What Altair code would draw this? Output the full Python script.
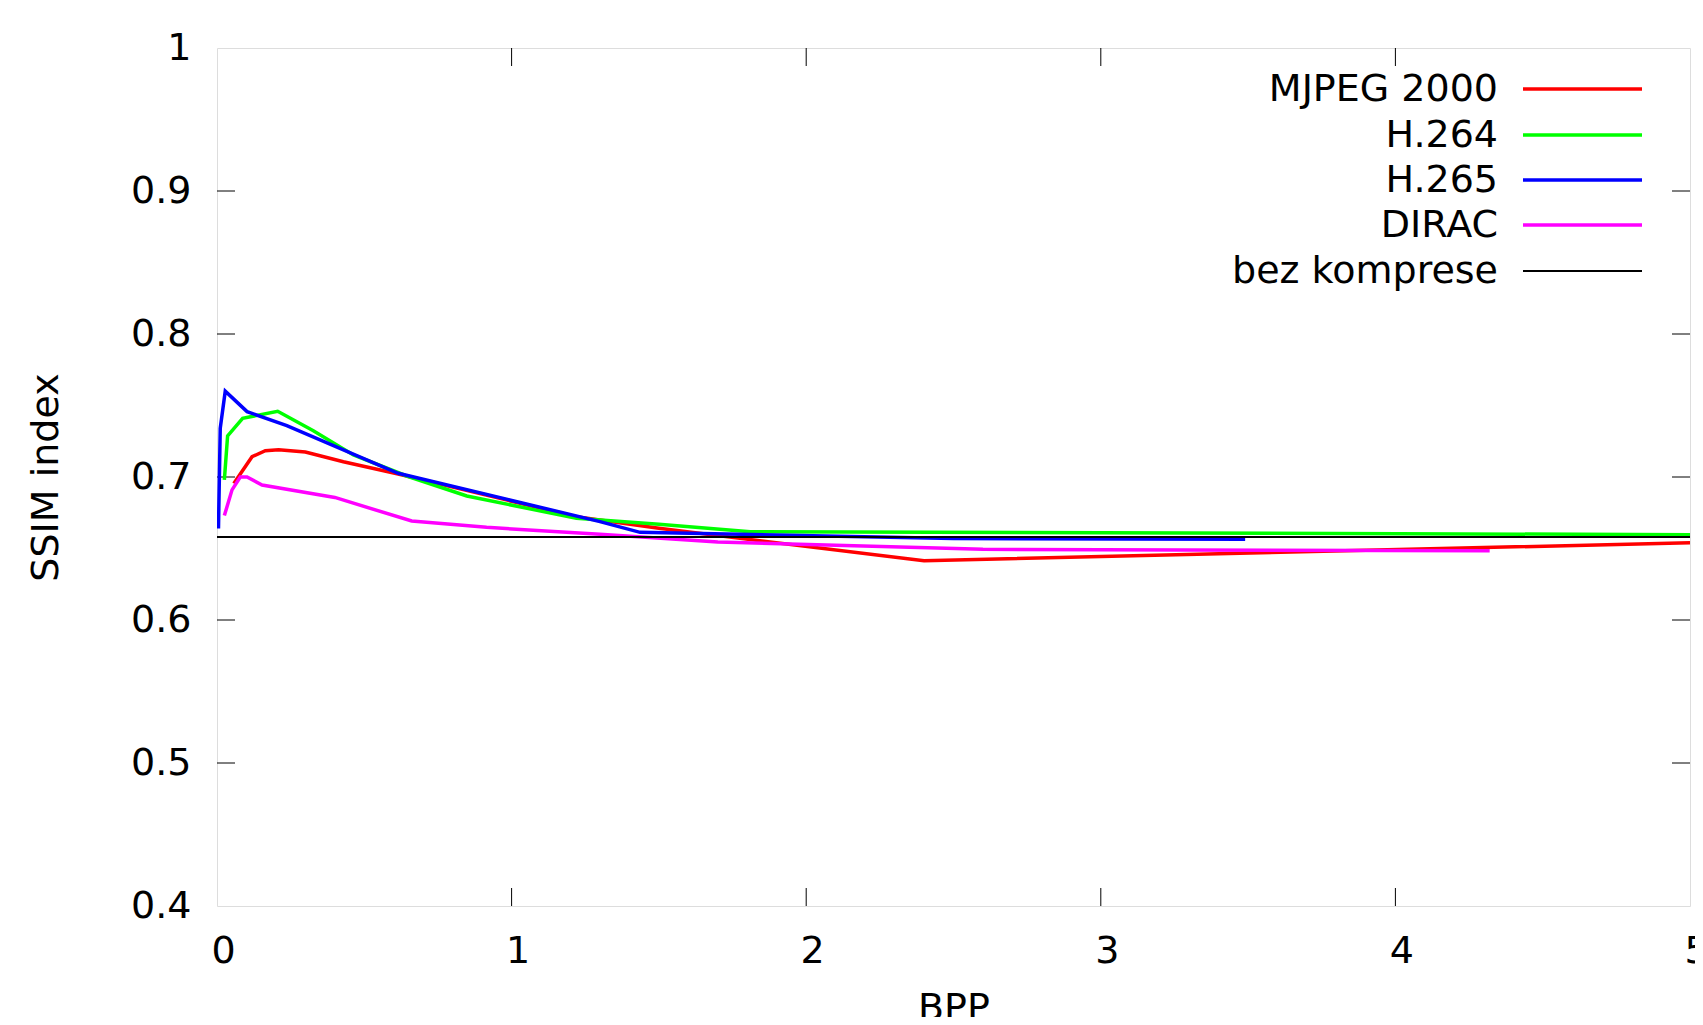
import altair as alt
import pandas as pd

# ---- data ----
SERIES = ["MJPEG 2000", "H.264", "H.265", "DIRAC", "bez komprese"]
COLORS = ["#ff0000", "#00ff00", "#0000ff", "#ff00ff", "#000000"]

MJPEG_BPP = [0.057, 0.119, 0.164, 0.209, 0.30, 0.429, 0.615, 1.22, 1.5, 2.4, 5.0]
MJPEG_SSIM = [0.6955, 0.7142, 0.7184, 0.719, 0.7175, 0.7107, 0.7021, 0.6722, 0.6641, 0.6415, 0.654]

H264_BPP = [0.025, 0.036, 0.087, 0.206, 0.327, 0.463, 0.644, 0.848, 1.22, 1.50, 1.81, 5.0]
H264_SSIM = [0.698, 0.7287, 0.741, 0.746, 0.7324, 0.7154, 0.7007, 0.6867, 0.6711, 0.667, 0.6617, 0.6597]

H265_BPP = [0.005, 0.011, 0.028, 0.102, 0.237, 0.615, 1.30, 1.436, 2.5, 3.49]
H265_SSIM = [0.664, 0.734, 0.760, 0.7457, 0.736, 0.7026, 0.6688, 0.6613, 0.657, 0.6564]

DIRAC_BPP = [0.025, 0.051, 0.079, 0.102, 0.153, 0.40, 0.661, 0.915, 1.30, 1.7, 2.6, 4.32]
DIRAC_SSIM = [0.673, 0.691, 0.700, 0.700, 0.6944, 0.6857, 0.6692, 0.6648, 0.660, 0.6545, 0.6494, 0.6484]

BASE_BPP = [0.0, 5.0]
BASE_SSIM = [0.658, 0.658]

X_TICKS = [0, 1, 2, 3, 4, 5]
Y_TICKS = [0.4, 0.5, 0.6, 0.7, 0.8, 0.9, 1.0]

FONT = "DejaVu Sans"
FS = 38
W, H = 1473, 858
TICK = 18

xs = alt.Scale(domain=[0, 5], nice=False, zero=False)
ys = alt.Scale(domain=[0.4, 1.0], nice=False, zero=False)

x_axis = alt.Axis(values=X_TICKS, format="d", title="BPP", grid=False, domain=False,
                  ticks=False, tickSize=0, labelFontSize=FS, labelFont=FONT,
                  labelPadding=56, labelBaseline="alphabetic", labelOffset=6,
                  labelColor="black", labelFlush=False,
                  titleFontSize=FS, titleFont=FONT, titleFontWeight="normal",
                  titleColor="black", titleX=W / 2, titleY=113,
                  titleBaseline="alphabetic", titleAlign="center")
y_axis = alt.Axis(values=Y_TICKS, format="~g", title="SSIM index", grid=False, domain=False,
                  ticks=False, tickSize=0, labelFontSize=FS, labelFont=FONT,
                  labelPadding=26, labelBaseline="middle", labelColor="black",
                  labelFlush=False,
                  titleFontSize=FS, titleFont=FONT, titleFontWeight="normal",
                  titleColor="black", titleX=-171, titleY=H / 2, titleAngle=270,
                  titleBaseline="middle", titleAlign="center")

series_data = [
    (MJPEG_BPP, MJPEG_SSIM),
    (H264_BPP, H264_SSIM),
    (H265_BPP, H265_SSIM),
    (DIRAC_BPP, DIRAC_SSIM),
    (BASE_BPP, BASE_SSIM),
]

layers = []

# inward ticks on all four sides (gnuplot style, mirrored)
xt = pd.DataFrame({"bpp": X_TICKS[1:-1]})
yt = pd.DataFrame({"ssim": Y_TICKS[1:-1]})
axes_layer = alt.Chart(xt).mark_rule(color="black", strokeWidth=1).encode(
    x=alt.X("bpp:Q", scale=xs, axis=x_axis),
    y=alt.value(H), y2=alt.value(H - TICK))
layers.append(axes_layer)
layers.append(alt.Chart(xt).mark_rule(color="black", strokeWidth=1).encode(
    x=alt.X("bpp:Q", scale=xs), y=alt.value(0), y2=alt.value(TICK)))
layers.append(alt.Chart(yt).mark_rule(color="black", strokeWidth=1).encode(
    y=alt.Y("ssim:Q", scale=ys, axis=y_axis), x=alt.value(0), x2=alt.value(TICK)))
layers.append(alt.Chart(yt).mark_rule(color="black", strokeWidth=1).encode(
    y=alt.Y("ssim:Q", scale=ys), x=alt.value(W), x2=alt.value(W - TICK)))

for name, color, (bx, by) in zip(SERIES, COLORS, series_data):
    df = pd.DataFrame({"bpp": bx, "ssim": by, "idx": list(range(len(bx))), "series": name})
    sw = 2 if name == "bez komprese" else 3.5
    layers.append(alt.Chart(df).mark_line(color=color, strokeWidth=sw, clip=True).encode(
        x=alt.X("bpp:Q", scale=xs),
        y=alt.Y("ssim:Q", scale=ys),
        order=alt.Order("idx:Q")))

# gnuplot-style key: label right-aligned, sample to the right
LEG_Y = [42, 88, 133, 178, 224]
for name, color, ly in zip(SERIES, COLORS, LEG_Y):
    ldf = pd.DataFrame({"label": [name]})
    layers.append(alt.Chart(ldf).mark_text(align="right", baseline="middle", fontSize=FS,
                                           font=FONT, color="black").encode(
        x=alt.value(1281), y=alt.value(ly), text="label:N"))
    sw = 2 if name == "bez komprese" else 3.5
    layers.append(alt.Chart(ldf).mark_rule(color=color, strokeWidth=sw).encode(
        x=alt.value(1306), x2=alt.value(1425), y=alt.value(ly - 1)))

chart = alt.layer(*layers).properties(
    width=W, height=H,
    autosize=alt.AutoSizeParams(type="none"),
    padding={"left": 209, "top": 40, "right": 5, "bottom": 111},
).configure_view(stroke="black", strokeWidth=1.5).configure(font=FONT, background="white")

chart.save("out.html", embed_options={"renderer": "svg", "actions": False})
